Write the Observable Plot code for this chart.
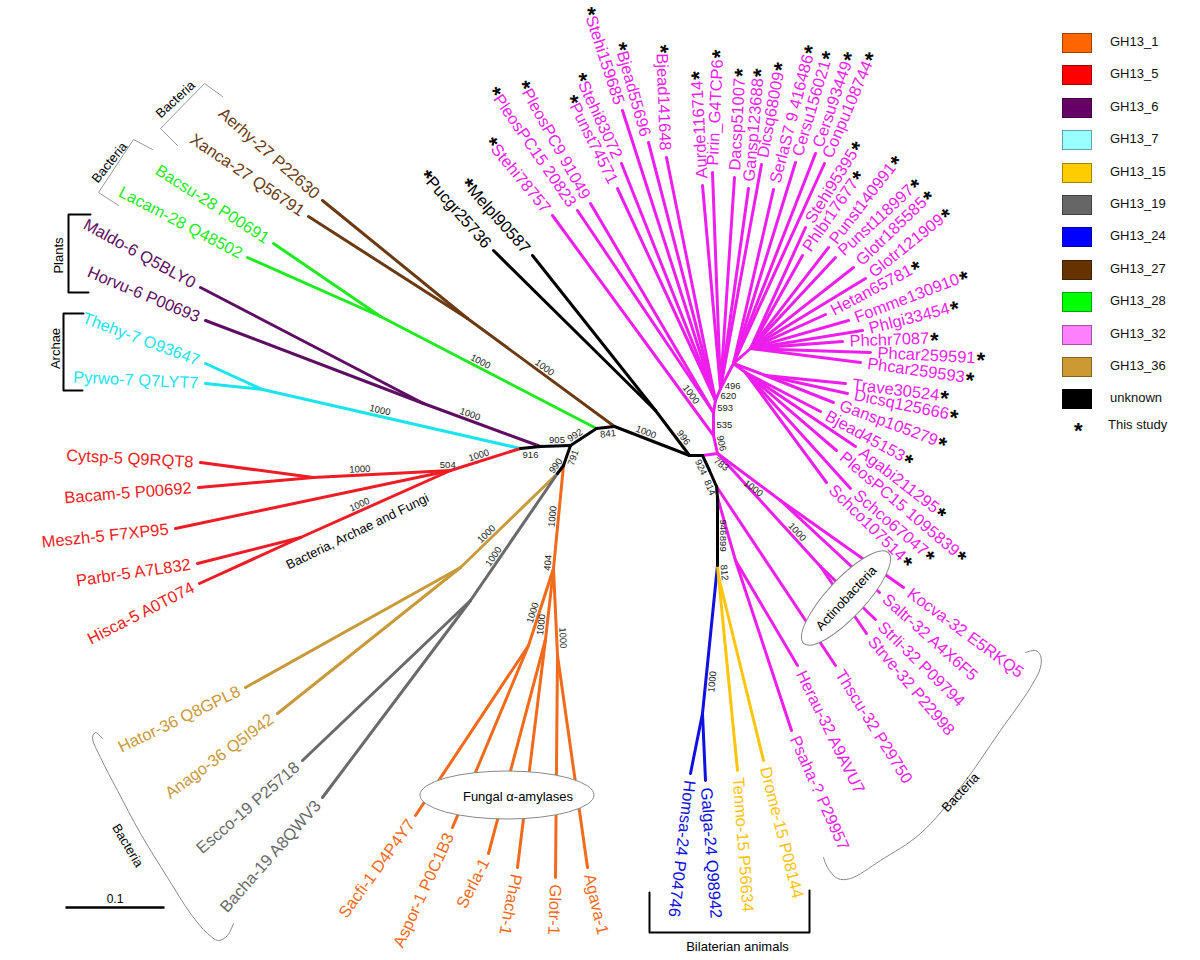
<!DOCTYPE html>
<html><head><meta charset="utf-8">
<script src="https://cdn.jsdelivr.net/npm/d3@7"></script>
<script src="https://cdn.jsdelivr.net/npm/@observablehq/plot@0.6"></script>
<style>
body{margin:0;background:#fff;font-family:"Liberation Sans",Arial,sans-serif;}
#wrap{position:relative;width:1200px;height:960px;overflow:hidden;}
#legend{position:absolute;left:1062px;top:33px;width:138px;height:420px;}
.row{position:absolute;left:0;height:20px;width:138px;}
.sw{position:absolute;left:0;top:0;width:28px;height:18px;border:1px solid rgba(0,0,0,0.35);}
.lt{position:absolute;left:48px;top:1px;font-size:13px;color:#111;white-space:nowrap;}
</style></head><body><div id="wrap"><div id="chart"></div><div id="legend"></div></div>
<script>
// ---------- legend categories ----------
const groups = ["GH13_1","GH13_5","GH13_6","GH13_7","GH13_15","GH13_19","GH13_24","GH13_27","GH13_28","GH13_32","GH13_36","unknown"];
const swatchColors = ["#FF6600","#FF0000","#660066","#99FFFF","#FFCC00","#666666","#0000FF","#663300","#00FF00","#FF80FF","#CC9933","#000000"];
const lineColors = ["#F26A1B","#EE1C24","#5E0E62","#1CE4EE","#FFC40C","#6A6A6A","#1010E0","#6B3A12","#1FEA1F","#EE1EEE","#C99A3C","#000000"];

// ---------- internal nodes: id, x, y, parent, group ----------
const internalNodes = [
 ["F",689,455,null,"unknown"],
 ["E",614,426,"F","unknown"],
 ["J",467,318,"E","GH13_27"],
 ["Kp",596,428,"E","unknown"],
 ["K",380,316,"Kp","GH13_28"],
 ["B",570,445,"Kp","unknown"],
 ["N",540,446,"B","unknown"],
 ["L",423,403,"N","GH13_6"],
 ["M",520,448,"N","unknown"],
 ["O",262,389,"M","GH13_7"],
 ["P",450,470,"M","GH13_5"],
 ["Q",313,477,"P","GH13_5"],
 ["R",300,537,"P","GH13_5"],
 ["C",563,465,"B","unknown"],
 ["U",553,568,"C","GH13_1"],
 ["V1",528,645,"U","GH13_1"],
 ["V2",545,639,"U","GH13_1"],
 ["V3",557,655,"U","GH13_1"],
 ["D",557,473,"C","unknown"],
 ["S",460,567,"D","GH13_36"],
 ["T",470,600,"D","GH13_19"],
 ["F2",655,410,"F","unknown"],
 ["G",702,455,"F","unknown"],
 ["G2",709,470,"G","unknown"],
 ["G3",716,486,"G2","unknown"],
 ["G4",717,497,"G3","unknown"],
 ["G5",717,565,"G4","unknown"],
 ["BN",702,713,"G5","GH13_24"],
 ["YN",718,576,"G5","GH13_15"],
 ["HP",735,560,"G4","GH13_32"],
 ["H",717,453,"G","GH13_32"],
 ["XA",780,500,"H","GH13_32"],
 ["XB",820,566,"H","GH13_32"],
 ["I1",713,435,"H","GH13_32"],
 ["I2",713,412,"I1","GH13_32"],
 ["I3",715,400,"I2","GH13_32"],
 ["I4",720,388,"I3","GH13_32"],
 ["I5",733,363,"I4","GH13_32"],
 ["I6",750,348,"I5","GH13_32"],
 ["I7",765,375,"I5","GH13_32"],
 ["I8",745,372,"I5","GH13_32"]
];

// ---------- leaves: name, tip x, tip y, parent, group, label angle, this study ----------
const leafNodes = [
 ["Aerhy-27 P22630",322,200,"J","GH13_27",221.4,0],
 ["Xanca-27 Q56791",308,216,"J","GH13_27",214,0],
 ["Bacsu-28 P00691",273,243,"K","GH13_28",212.7,0],
 ["Lacam-28 Q48502",247,257,"K","GH13_28",207.5,0],
 ["Maldo-6 Q5BLY0",200,287,"L","GH13_6",209,0],
 ["Horvu-6 P00693",205,320,"L","GH13_6",202.7,0],
 ["Thehy-7 O93647",205,363,"O","GH13_7",200.6,0],
 ["Pyrwo-7 Q7LYT7",205,383,"O","GH13_7",182.7,0],
 ["Cytsp-5 Q9RQT8",200,462,"Q","GH13_5",183,0],
 ["Bacam-5 P00692",198,487,"Q","GH13_5",175.5,0],
 ["Meszh-5 F7XP95",175,528,"P","GH13_5",174,0],
 ["Parbr-5 A7L832",197,563,"R","GH13_5",171.8,0],
 ["Hisca-5 A0T074",199,583,"R","GH13_5",153,0],
 ["Hator-36 Q8GPL8",245,687,"S","GH13_36",154.4,0],
 ["Anago-36 Q5I942",277,713,"S","GH13_36",143.6,0],
 ["Escco-19 P25718",302,760,"T","GH13_19",139,0],
 ["Bacha-19 A8QWV3",322,797,"T","GH13_19",131.4,0],
 ["Sacfi-1 D4P4Y7",415,815,"V1","GH13_1",126,0],
 ["Aspor-1 P0C1B3",452,827,"V1","GH13_1",114.6,0],
 ["Serla-1",488,853,"V2","GH13_1",117,0],
 ["Phach-1",517,867,"V2","GH13_1",101,0],
 ["Glotr-1",555,877,"V3","GH13_1",92,0],
 ["Agava-1",587,867,"V3","GH13_1",77,0],
 ["Homsa-24 P04746",690,773,"BN","GH13_24",96.7,0],
 ["Galga-24 Q98942",705,780,"BN","GH13_24",85.7,0],
 ["Tenmo-15 P56634",737,770,"YN","GH13_15",85.8,0],
 ["Drome-15 P08144",763,760,"YN","GH13_15",75.9,0],
 ["Psaha-? P29957",791,730,"HP","GH13_32",66,0],
 ["Herau-32 A9AVU7",797,665,"HP","GH13_32",63.8,0],
 ["Thscu-32 P29750",835,665,"G3","GH13_32",58,0],
 ["Strve-32 P22998",866,633,"XB","GH13_32",49.6,0],
 ["Strli-32 P09794",875,619,"XB","GH13_32",44.3,0],
 ["Saltr-32 A4X6F5",879,592,"XA","GH13_32",41.7,0],
 ["Kocva-32 E5RKQ5",903,587,"XA","GH13_32",36.3,0],
 ["Schco107514",826,482,"I8","GH13_32",44.6,1],
 ["Schco67047",850,488,"I8","GH13_32",40.5,1],
 ["PleosPC15 1095839",836,450,"I8","GH13_32",40.3,1],
 ["Agabi211295",855,446,"I8","GH13_32",37.8,1],
 ["Bjead45153",820,411,"I8","GH13_32",28.8,1],
 ["Gansp105279",833,402,"I7","GH13_32",20.3,1],
 ["Dicsq125666",847,393,"I7","GH13_32",11.6,1],
 ["Trave30524",845,383,"I7","GH13_32",7.3,1],
 ["Phcar259593",860,362,"I6","GH13_32",8.1,1],
 ["Phcar259591",870,352,"I6","GH13_32",2.9,1],
 ["Phchr7087",842,341,"I6","GH13_32",-2.1,1],
 ["Phlgi33454",862,330,"I6","GH13_32",-14.4,1],
 ["Fomme130910",848,320,"I6","GH13_32",-20.8,1],
 ["Hetan65781",825,314,"I6","GH13_32",-27.9,1],
 ["Glotr121909",865,278,"I6","GH13_32",-38.7,1],
 ["Glotr185585",853,267,"I6","GH13_32",-43.7,1],
 ["Punst118997",835,257,"I6","GH13_32",-42.6,1],
 ["Punst140991",828,247,"I6","GH13_32",-52.2,1],
 ["Phlbr17677",802,255,"I6","GH13_32",-55.3,1],
 ["Stehi95395",805,227,"I6","GH13_32",-57.8,1],
 ["Conpu108744",824,163,"I5","GH13_32",-66.8,1],
 ["Cersu93449",815,153,"I5","GH13_32",-71,1],
 ["Cersu156021",795,162,"I5","GH13_32",-73.5,1],
 ["SerlaS7 9 416486",773,189,"I5","GH13_32",-75.5,1],
 ["Dicsq68009",761,164,"I4","GH13_32",-79.5,1],
 ["Gansp123688",748,188,"I4","GH13_32",-85,1],
 ["Dacsp51007",734,177,"I4","GH13_32",-87,1],
 ["Pirin_G4TCP6",712,172,"I4","GH13_32",-87.4,1],
 ["Aurde116714",702,185,"I4","GH13_32",-93,1],
 ["Bjead141648",666,157,"I3","GH13_32",268,1],
 ["Bjead55696",648,142,"I3","GH13_32",254.4,1],
 ["Stehi159685",622,110,"I3","GH13_32",252,1],
 ["Stehi83072",621,163,"I3","GH13_32",245.2,1],
 ["Punst74571",617,188,"I3","GH13_32",243.4,1],
 ["PleosPC9 91049",590,203,"I2","GH13_32",241,1],
 ["PleosPC15 20823",577,210,"I2","GH13_32",235.4,1],
 ["Stehi78757",552,215,"I1","GH13_32",230.6,1],
 ["Melpl90587",532,255,"F2","unknown",228.4,1],
 ["Pucgr25736",493,250,"F2","unknown",228.7,1]
];

// ---------- bootstrap values: branch (child node), value, position along branch, side ----------
const bootstraps = [
 ["J",1000,0.5,"a"],["K",1000,0.55,"a"],["L",1000,0.62,"a"],["O",1000,0.55,"a"],
 ["P",1000,0.57,"a"],["Q",504,0.02,"ha"],["Q",1000,0.66,"a"],["R",1000,0.59,"a"],
 ["N",905,0.45,"ha"],["M",916,0.5,"hb"],["B",992,0.7,"a"],["Kp",841,0.4,"b"],
 ["C",791,0.5,"b"],["D",990,0.5,"a"],["S",1000,0.69,"a"],["T",1000,0.68,"a"],
 ["U",1000,0.5,"a"],["U",404,0.95,"a"],["V1",1000,0.6,"a"],["V2",1000,0.8,"a"],["V3",1000,0.8,"a"],
 ["E",1000,0.61,"a"],["F2",996,0.32,"a"],["Stehi78757",1000,0.17,"a"],["I1",906,0.5,"a"],
 ["I2",535,0.45,"r"],["I3",593,0.4,"r"],["I4",620,0.4,"r"],["I5",496,0.1,"r"],
 ["XA",783,0.12,"b"],["XA",1000,0.63,"b"],["XB",1000,0.73,"a"],
 ["G2",924,0.6,"b"],["G3",814,0.9,"b"],["G5",946,0.44,"a"],["G5",899,0.68,"a"],
 ["YN",812,0.7,"a"],["BN",1000,0.78,"b"]
];

// ---------- annotations ----------
const grayBrackets = [
 ["b1",[[222,96],[204,83],[160,128],[177,145]]],
 ["b2",[[152,149],[133,139],[98,192],[118,205]]]
];
const grayCurves = [
 ["c1",[[102,738],[95,732],[92,737],[100,757],[117,790],[140,833],[167,877],[190,913],[207,933],[218,940],[227,935],[233,923]]],
 ["c2",[[1025,652],[1035,650],[1040,655],[1040,667],[1030,687],[1000,730],[960,787],[920,833],[880,860],[850,878],[837,878],[827,867],[823,857]]]
];
const blackBrackets = [
 ["plants",[[90,214],[68,214],[68,292],[88,292]]],
 ["archae",[[83,313],[63,313],[63,390],[82,390]]],
 ["bilat",[[649,892],[649,932],[809,932],[809,890]]]
];
const scaleBar = [["0.1",65,164,907]];
const notes = [
 ["Bacteria",175,99,-42.5],["Bacteria",109,162,-51],["Plants",58,255,-90],["Archae",55,348,-90],
 ["Bacteria, Archae and Fungi",357,531,-26],["Bacteria",127,845,59],["Bacteria",960,792,-47],
 ["Bilaterian animals",737,946,0]
];
const ellipses = [
 {label:"Fungal \u03B1-amylases",cx:507,cy:795,rx:87,ry:24,rot:0,tx:518,ty:796},
 {label:"Actinobacteria",cx:846,cy:598,rx:62,ry:19,rot:-47,tx:846,ty:598}
];

// ---------- build ----------
const W = 1200, H = 960, rad = Math.PI/180;
const colorOf = g => lineColors[groups.indexOf(g)];
const nodes = new Map();
for (const [id,x,y,parent,group] of internalNodes) nodes.set(id,{id,x,y,parent,group});
for (const [id,x,y,parent,group,a,star] of leafNodes) nodes.set(id,{id,x,y,parent,group,a,star,leaf:true});

const edges = [];
for (const n of nodes.values()) if (n.parent) {
  const p = nodes.get(n.parent);
  edges.push({x1:p.x,y1:p.y,x2:n.x,y2:n.y,stroke:colorOf(n.group),black:n.group==="unknown"});
}

const OFF = 7;
const labels = leafNodes.map(([id,x,y,parent,group,a,star]) => {
  const flip = a > 105;
  return {text:id,x:x+OFF*Math.cos(a*rad),y:y+OFF*Math.sin(a*rad),rot:flip?a-180:a,flip,fill:colorOf(group),star};
});
const labelMap = new Map(labels.map(d => [d.text,d]));

const bsData = bootstraps.map(([nid,v,t,side]) => {
  const n = nodes.get(nid), p = nodes.get(n.parent);
  const x = p.x + t*(n.x-p.x), y = p.y + t*(n.y-p.y);
  let ang = Math.atan2(n.y-p.y, n.x-p.x)/rad;
  while (ang > 90) ang -= 180;
  while (ang <= -90) ang += 180;
  if (side === "a" || side === "b") {
    const k = side === "a" ? 6 : -6.5;
    return {v:String(v),x:x+k*Math.sin(ang*rad),y:y-k*Math.cos(ang*rad),rot:ang,anchor:"middle"};
  }
  if (side === "ha") return {v:String(v),x,y:y-6,rot:0,anchor:"middle"};
  if (side === "hb") return {v:String(v),x,y:y+7,rot:0,anchor:"middle"};
  return {v:String(v),x:x+3,y,rot:0,anchor:"start"};
});

const toRows = list => list.flatMap(([id,pts]) => pts.map(([x,y]) => ({id,x,y})));

const plot = Plot.plot({
  width: W, height: H, margin: 0,
  x: {domain:[0,W], range:[0,W], axis:null},
  y: {domain:[0,H], range:[0,H], axis:null},
  color: {type:"identity"},
  style: {fontFamily:"'Liberation Sans', Arial, sans-serif", background:"#fff", overflow:"visible"},
  marks: [
    Plot.link(edges.filter(e => !e.black), {x1:"x1",y1:"y1",x2:"x2",y2:"y2",stroke:"stroke",strokeWidth:3,strokeLinecap:"round"}),
    Plot.link(edges.filter(e => e.black), {x1:"x1",y1:"y1",x2:"x2",y2:"y2",stroke:"#000",strokeWidth:3,strokeLinecap:"round"}),
    Plot.text(labels.filter(d => !d.flip), {x:"x",y:"y",text:"text",rotate:"rot",fill:"fill",textAnchor:"start",fontSize:16.5}),
    Plot.text(labels.filter(d => d.flip), {x:"x",y:"y",text:"text",rotate:"rot",fill:"fill",textAnchor:"end",fontSize:16.5}),
    Plot.text(bsData.filter(d => d.anchor==="middle"), {x:"x",y:"y",text:"v",rotate:"rot",fill:"#222",textAnchor:"middle",fontSize:9.5}),
    Plot.text(bsData.filter(d => d.anchor==="start"), {x:"x",y:"y",text:"v",rotate:"rot",fill:"#222",textAnchor:"start",fontSize:9.5}),
    Plot.line(toRows(grayBrackets), {x:"x",y:"y",z:"id",stroke:"#999",strokeWidth:1}),
    Plot.line(toRows(grayCurves), {x:"x",y:"y",z:"id",stroke:"#888",strokeWidth:1,curve:"catmull-rom"}),
    Plot.line(toRows(blackBrackets), {x:"x",y:"y",z:"id",stroke:"#000",strokeWidth:2}),
    Plot.link(scaleBar, {x1:d=>d[1],x2:d=>d[2],y1:d=>d[3],y2:d=>d[3],stroke:"#000",strokeWidth:2.5}),
    Plot.text(scaleBar, {x:d=>(d[1]+d[2])/2,y:d=>d[3]-8,text:d=>d[0],fontSize:12,fill:"#000"}),
    Plot.text(notes, {x:d=>d[1],y:d=>d[2],text:d=>d[0],rotate:d=>d[3],fontSize:13,fill:"#000"})
  ]
});

// stars for "This study"
d3.select(plot).selectAll("text").each(function(){
  const t = this.textContent, lab = labelMap.get(t);
  if (!lab || !lab.star) return;
  const s = d3.select(this);
  if (lab.flip) {
    s.text(null);
    s.append("tspan").attr("fill","#000").attr("font-weight","bold").attr("font-size",22).attr("dy","0.2em").text("*");
    s.append("tspan").attr("dy","-0.2em").text(t);
  } else {
    s.append("tspan").attr("fill","#000").attr("font-weight","bold").attr("font-size",22).attr("dx",1).attr("dy","0.2em").text("*");
  }
});

// ellipse annotations placed through the plot scales
const sx = plot.scale("x"), sy = plot.scale("y");
const eg = d3.select(plot).append("g");
for (const e of ellipses) {
  const cx = sx.apply(e.cx), cy = sy.apply(e.cy), tx = sx.apply(e.tx), ty = sy.apply(e.ty);
  eg.append("ellipse").attr("cx",cx).attr("cy",cy).attr("rx",e.rx).attr("ry",e.ry)
    .attr("transform",`rotate(${e.rot} ${cx} ${cy})`).attr("fill","#fff").attr("stroke","#888").attr("stroke-width",1);
  eg.append("text").attr("x",tx).attr("y",ty).attr("dy","0.35em").attr("text-anchor","middle")
    .attr("transform",`rotate(${e.rot} ${tx} ${ty})`).attr("font-size",13).attr("fill","#000").text(e.label);
}

document.getElementById("chart").appendChild(plot);

// legend
const leg = document.getElementById("legend");
groups.forEach((g,i) => {
  const r = document.createElement("div"); r.className = "row"; r.style.top = (i*32.4)+"px";
  r.innerHTML = `<div class="sw" style="background:${swatchColors[i]}"></div><div class="lt">${g}</div>`;
  leg.appendChild(r);
});
const sr = document.createElement("div"); sr.className = "row"; sr.style.top = (12*32.4-6)+"px";
sr.innerHTML = `<div style="position:absolute;left:12px;top:2px;font-size:22px;font-weight:bold;">*</div><div class="lt" style="left:46px;top:1px">This study</div>`;
leg.appendChild(sr);
</script></body></html>
